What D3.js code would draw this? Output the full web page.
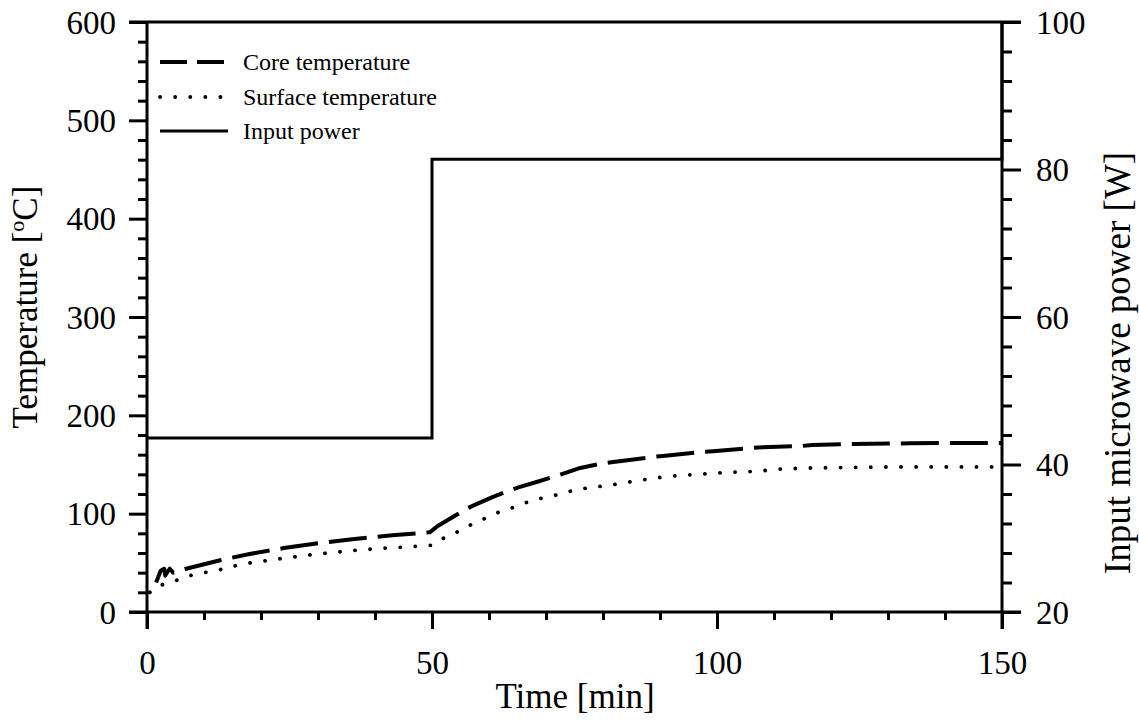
<!DOCTYPE html>
<html>
<head>
<meta charset="utf-8">
<script src="https://cdn.jsdelivr.net/npm/d3@7"></script>
<style>
  html, body { margin: 0; padding: 0; background: #fff; }
  svg text { font-family: "Liberation Serif", "Times New Roman", serif; fill: #000; }
</style>
</head>
<body>
<svg id="chart" width="1139" height="721"></svg>
<script>
// Time [min], temperature [°C] and microwave power [W]
const coreTime = [1.6, 2.4, 3.0, 3.2, 3.6, 4.0, 4.6, 5.3, 6.7, 13, 18, 24, 30, 36, 43, 49.6, 51, 53.5, 56.3, 57.9, 60.5, 63.3, 65.3, 68.5, 71.6, 73.7, 76, 79.5, 81.8, 88.8, 90.5, 97.4, 99.3, 106, 108, 115, 116.7, 124, 134, 141, 150];
const coreTemp = [30, 42, 44, 37, 41, 44, 40, 41, 43.7, 52.9, 59, 65, 70, 74, 78, 81, 87.5, 96, 105.8, 109.9, 116.5, 123, 127, 132.5, 138, 142, 146.5, 150.6, 152.6, 157.7, 158.7, 162.8, 163.5, 166.8, 167.5, 168.9, 169.9, 170.9, 171.5, 171.9, 171.9];

const surfTime = [0.5, 1.4, 4.4, 7.2, 9.8, 12.6, 15.3, 17.9, 20.5, 25, 30, 36, 42, 45, 48, 50.2, 52, 54, 56, 57.9, 59.8, 61.8, 64, 66.3, 68.6, 71.2, 73.7, 75.8, 81.3, 86.5, 91.4, 96.7, 101.8, 106.7, 111.6, 116.7, 130, 150];
const surfTemp = [20, 25.5, 30.5, 36.6, 39.7, 42.7, 46.8, 49.8, 51.9, 55.5, 59, 62.5, 65, 66, 67, 68, 75, 80, 86.5, 91.6, 96.6, 101.7, 105.8, 110.9, 115, 118, 122, 125, 129, 134, 138, 140, 142, 143, 145.5, 146.5, 147.5, 147.5];

const powerTime = [0, 50, 50, 150, 150];
const powerWatt = [43.6, 43.6, 81.4, 81.4, 100];

const xTicks = [0, 50, 100, 150];
const tempTicks = [0, 100, 200, 300, 400, 500, 600];
const powerTicks = [20, 40, 60, 80, 100];

const legendLabels = ["Core temperature", "Surface temperature", "Input power"];

const svg = d3.select("#chart");
const plotL = 147, plotR = 1002, plotT = 22, plotB = 612;

const x = d3.scaleLinear().domain([0, 150]).range([plotL, plotR]);
const yT = d3.scaleLinear().domain([0, 600]).range([plotB, plotT]);
const yP = d3.scaleLinear().domain([20, 100]).range([plotB, plotT]);

const axisW = 3;
const tickFont = 33;
const titleFont = 35;

// Bottom axis (time)
const gx = svg.append("g").attr("transform", `translate(0,${plotB})`);
gx.call(d3.axisBottom(x).tickValues(d3.range(0, 151, 10)).tickSize(8).tickFormat(""));
gx.call(g => g.selectAll(".tick").filter(d => xTicks.includes(d)).select("line").attr("y2", 17));
gx.selectAll(".domain").remove();
gx.selectAll(".tick line").attr("stroke", "#000").attr("stroke-width", axisW);
gx.selectAll(".tick").filter(d => xTicks.includes(d)).append("text")
  .attr("y", 62).attr("text-anchor", "middle").attr("font-size", tickFont)
  .text(d => d);

// Left axis (temperature)
const gy = svg.append("g").attr("transform", `translate(${plotL},0)`);
gy.call(d3.axisLeft(yT).tickValues(d3.range(0, 601, 20)).tickSize(9).tickFormat(""));
gy.call(g => g.selectAll(".tick").filter(d => tempTicks.includes(d)).select("line").attr("x2", -18));
gy.selectAll(".domain").remove();
gy.selectAll(".tick line").attr("stroke", "#000").attr("stroke-width", axisW);
gy.selectAll(".tick").filter(d => tempTicks.includes(d)).append("text")
  .attr("x", -31).attr("dy", "0.34em").attr("text-anchor", "end").attr("font-size", tickFont)
  .text(d => d);

// Right axis (power)
const gr = svg.append("g").attr("transform", `translate(${plotR},0)`);
gr.call(d3.axisRight(yP).tickValues(d3.range(20, 101, 4)).tickSize(10).tickFormat(""));
gr.call(g => g.selectAll(".tick").filter(d => powerTicks.includes(d)).select("line").attr("x2", 19));
gr.selectAll(".domain").remove();
gr.selectAll(".tick line").attr("stroke", "#000").attr("stroke-width", axisW);
gr.selectAll(".tick").filter(d => powerTicks.includes(d)).append("text")
  .attr("x", 34).attr("dy", "0.34em").attr("text-anchor", "start").attr("font-size", tickFont)
  .text(d => d);

// Frame
const frame = svg.append("g").attr("stroke", "#000").attr("stroke-width", axisW).attr("fill", "none");
frame.append("line").attr("x1", plotL - 18).attr("x2", plotR + 19).attr("y1", plotT).attr("y2", plotT);
frame.append("line").attr("x1", plotL - 18).attr("x2", plotR + 19).attr("y1", plotB).attr("y2", plotB);
frame.append("line").attr("x1", plotL).attr("x2", plotL).attr("y1", plotT).attr("y2", plotB + 17);
frame.append("line").attr("x1", plotR).attr("x2", plotR).attr("y1", plotT).attr("y2", plotB + 17);

// Series
const tempLine = d3.line().x(d => x(d[0])).y(d => yT(d[1]));
const powerLine = d3.line().x(d => x(d[0])).y(d => yP(d[1]));

const corePts = coreTime.map((t, i) => [t, coreTemp[i]]);
const surfPts = surfTime.map((t, i) => [t, surfTemp[i]]);
const powerPts = powerTime.map((t, i) => [t, powerWatt[i]]);

const coreStyle = { width: 4, dash: "38,11" };
const surfStyle = { width: 3.8, dash: "0.1,15" };

svg.append("path").attr("d", powerLine(powerPts))
  .attr("fill", "none").attr("stroke", "#000").attr("stroke-width", 3);

svg.append("path").attr("d", tempLine(corePts))
  .attr("fill", "none").attr("stroke", "#000").attr("stroke-width", coreStyle.width)
  .attr("stroke-dasharray", coreStyle.dash).attr("stroke-linejoin", "round");

svg.append("path").attr("d", tempLine(surfPts))
  .attr("fill", "none").attr("stroke", "#000").attr("stroke-width", surfStyle.width)
  .attr("stroke-dasharray", surfStyle.dash).attr("stroke-linecap", "round");

// Legend
const legendY = [62, 97, 131];
const lg = svg.append("g");
[[coreStyle.width, "27,10", "butt"], [surfStyle.width, surfStyle.dash, "round"], [3, null, "butt"]].forEach((s, i) => {
  const l = lg.append("line").attr("x1", 160).attr("x2", i === 1 ? 226 : 228)
    .attr("y1", legendY[i]).attr("y2", legendY[i])
    .attr("stroke", "#000").attr("stroke-width", s[0]).attr("stroke-linecap", s[2]);
  if (s[1]) l.attr("stroke-dasharray", s[1]);
  lg.append("text").attr("x", 243).attr("y", legendY[i]).attr("dy", "0.33em")
    .attr("font-size", 24).text(legendLabels[i]);
});

// Axis titles
svg.append("text").attr("x", 575).attr("y", 708).attr("text-anchor", "middle")
  .attr("font-size", titleFont).text("Time [min]");

const lt = svg.append("text").attr("transform", "translate(37,307) rotate(-90)")
  .attr("text-anchor", "middle").attr("font-size", titleFont);
lt.append("tspan").text("Temperature [");
lt.append("tspan").attr("font-size", 22).attr("dy", -13).text("o");
lt.append("tspan").attr("dy", 13).text("C]");

svg.append("text").attr("transform", "translate(1130,363) rotate(-90)")
  .attr("text-anchor", "middle").attr("font-size", 37).text("Input microwave power [W]");
</script>
</body>
</html>
